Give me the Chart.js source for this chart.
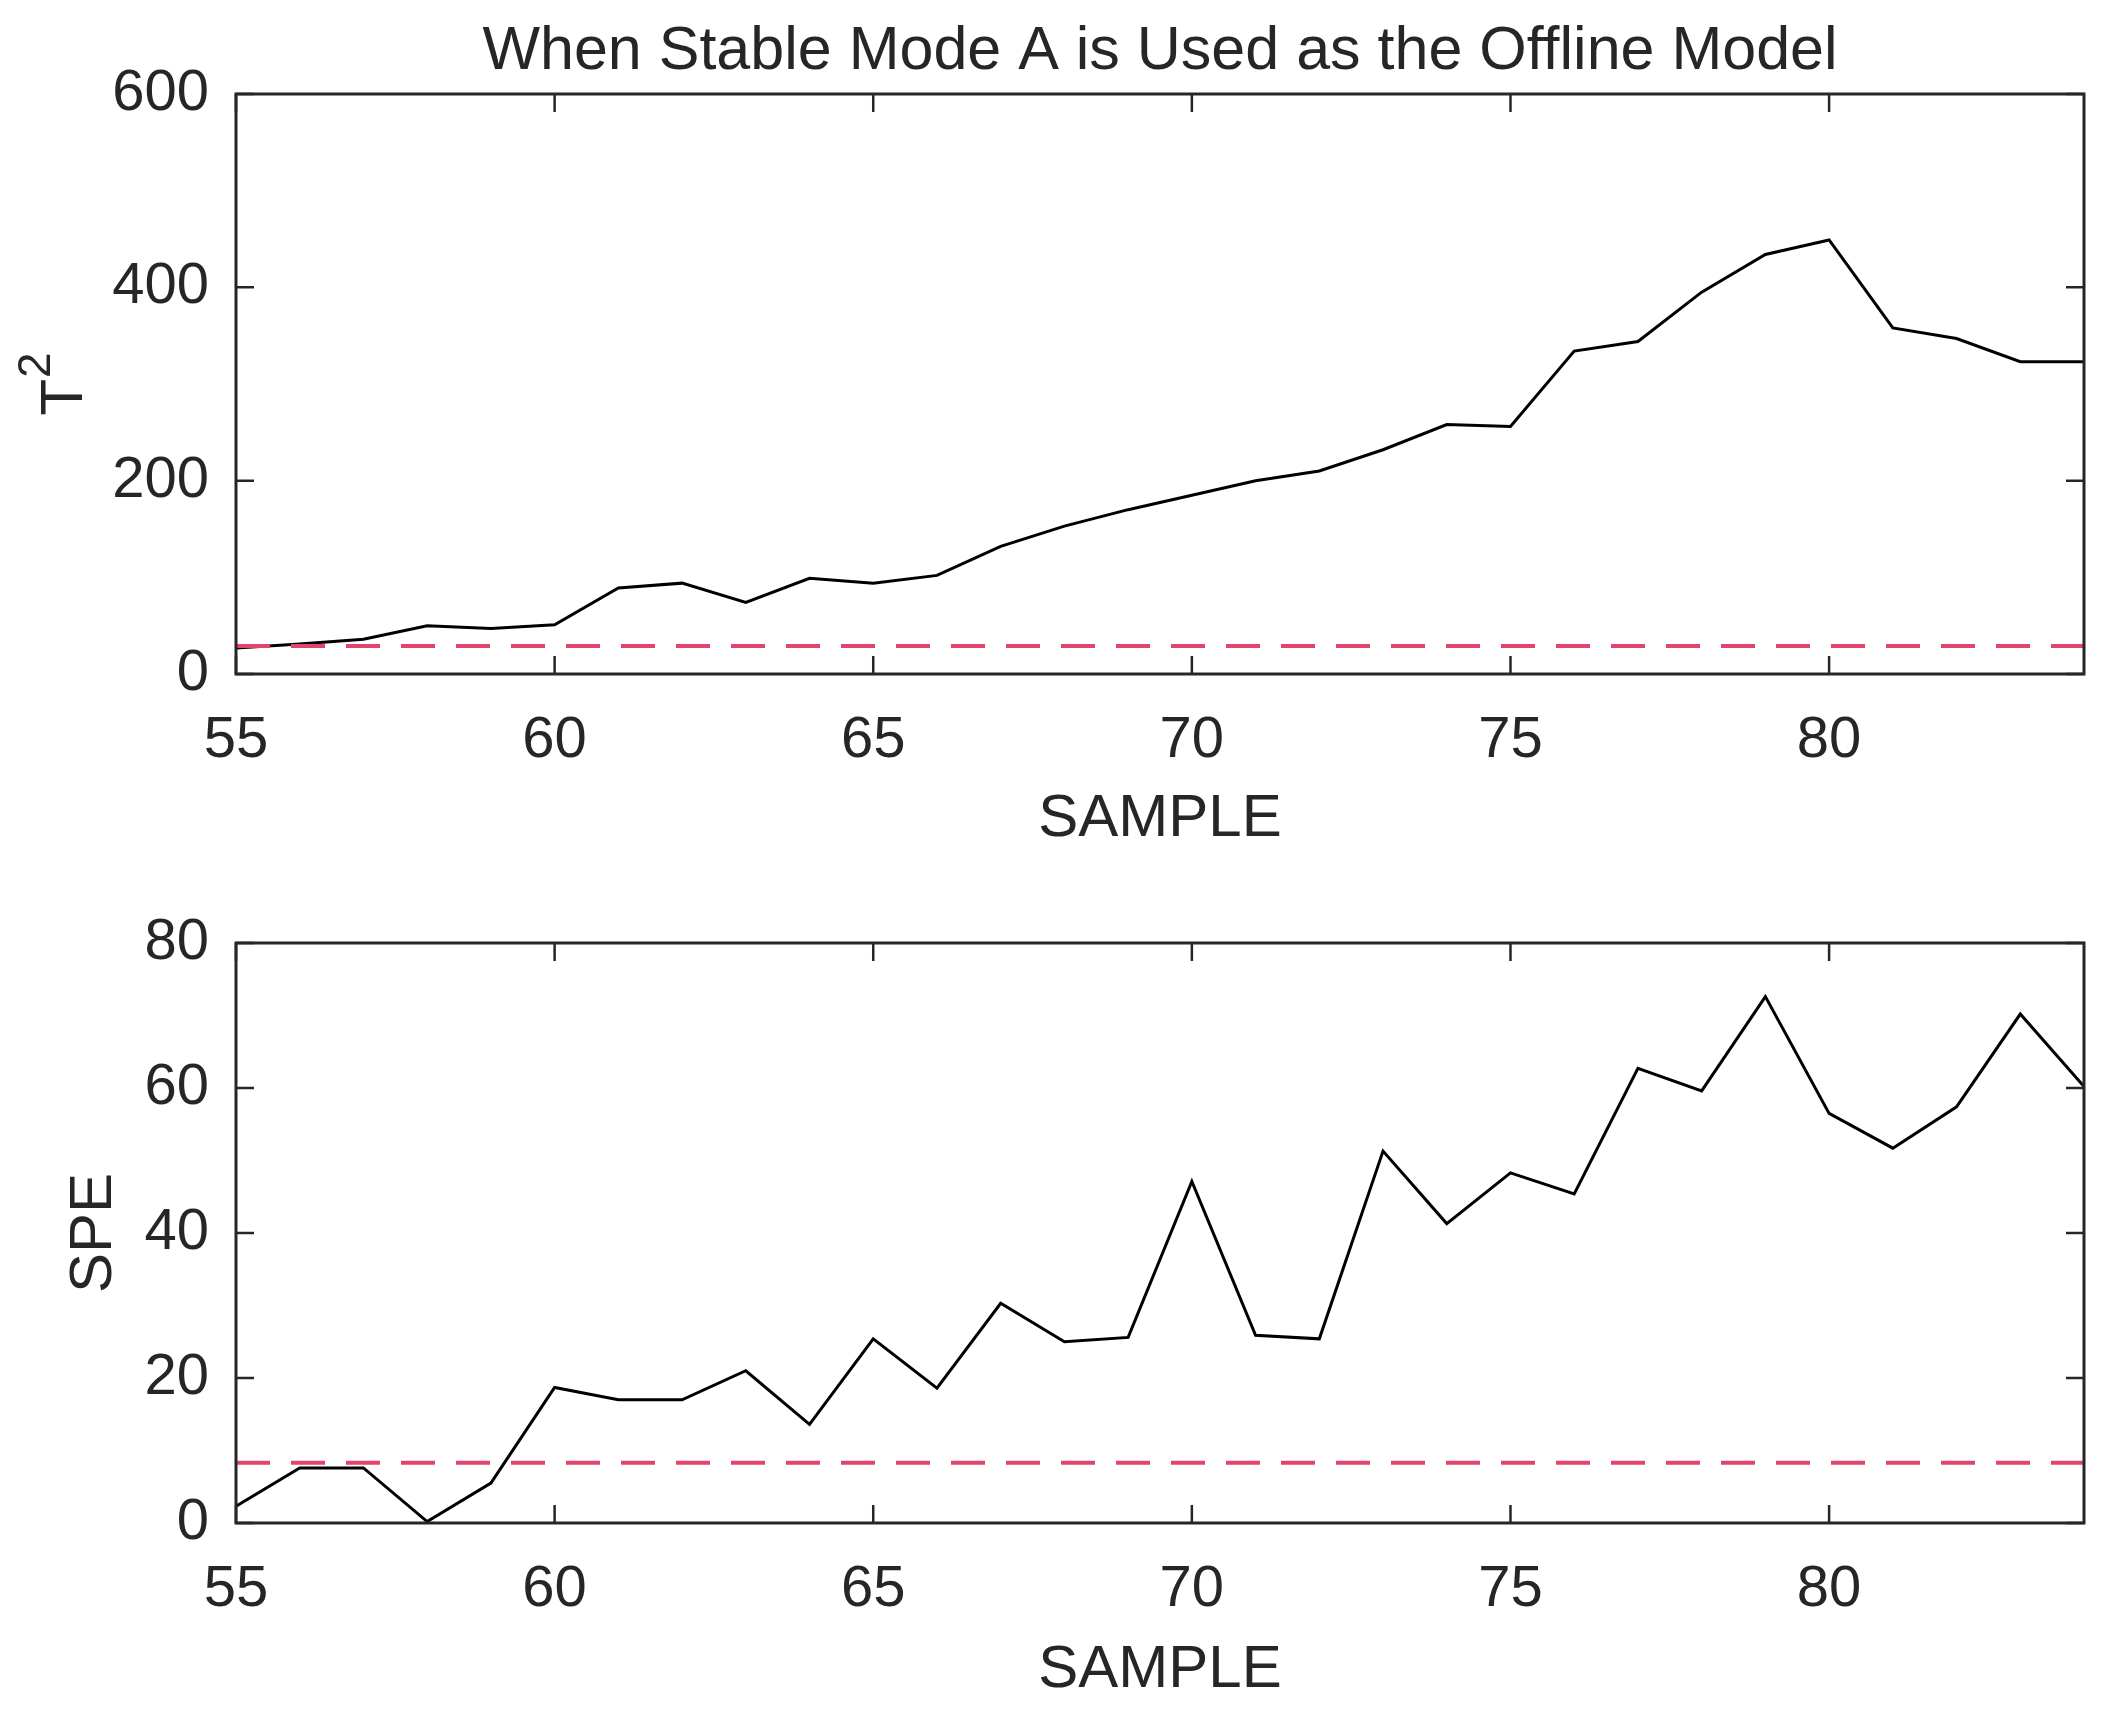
<!DOCTYPE html>
<html>
<head>
<meta charset="utf-8">
<script src="https://cdn.jsdelivr.net/npm/chart.js@4.4.0/dist/chart.umd.min.js"></script>
<style>
html,body{margin:0;padding:0;background:#fff;overflow:hidden;width:2108px;height:1715px;}
canvas{position:absolute;left:0;display:block;}
#c1{top:0;}
#c2{top:860px;}
</style>
</head>
<body>
<canvas id="c1" width="2108" height="860"></canvas>
<canvas id="c2" width="2108" height="855"></canvas>
<script>
// ---- data ----
const samples   = [55,56,57,58,59,60,61,62,63,64,65,66,67,68,69,70,71,72,73,74,75,76,77,78,79,80,81,82,83,84];
const t2Values  = [27,31,36,50,47,51,89,94,74,99,94,102,132,153,170,185,200,210,232,258,256,334,344,395,434,449,358,347,323,323];
const speValues = [2.3,7.6,7.6,0.2,5.5,18.7,17.0,17.0,21.0,13.6,25.4,18.6,30.3,25.0,25.6,47.1,25.9,25.4,51.3,41.3,48.3,45.4,62.7,59.6,72.6,56.5,51.7,57.4,70.2,60.2];
const t2Limit   = 29;
const speLimit  = 8.3;
const xTicks    = [55,60,65,70,75,80];
const t2Ticks   = [0,200,400,600];
const speTicks  = [0,20,40,60,80];
const chartTitle = 'When Stable Mode A is Used as the Offline Model';
const xTitle = 'SAMPLE';
const t2TitleBase = 'T';
const t2TitleSup = '2';
const speTitle = 'SPE';

const FONT = "'Liberation Sans', Arial, Helvetica, sans-serif";
const INK = '#262626';

const framePlugin = {
  id: 'frame',
  afterDatasetsDraw(chart) {
    const {ctx, chartArea: a, scales} = chart;
    const L = 18;
    ctx.save();
    ctx.strokeStyle = INK;
    ctx.lineWidth = 2.5;
    ctx.beginPath();
    scales.x.ticks.forEach(t => {
      const px = scales.x.getPixelForValue(t.value);
      ctx.moveTo(px, a.bottom); ctx.lineTo(px, a.bottom - L);
      ctx.moveTo(px, a.top); ctx.lineTo(px, a.top + L);
    });
    scales.y.ticks.forEach(t => {
      const py = scales.y.getPixelForValue(t.value);
      ctx.moveTo(a.left, py); ctx.lineTo(a.left + L, py);
      ctx.moveTo(a.right, py); ctx.lineTo(a.right - L, py);
    });
    ctx.stroke();
    ctx.lineWidth = 3;
    ctx.strokeRect(a.left, a.top, a.right - a.left, a.bottom - a.top);
    ctx.restore();
  }
};

// y-axis title with a real superscript (T with raised 2)
const supTitlePlugin = {
  id: 'supTitle',
  afterDraw(chart, args, opts) {
    if (!opts || !opts.base) return;
    const {ctx, chartArea: a} = chart;
    ctx.save();
    ctx.fillStyle = INK;
    ctx.textBaseline = 'alphabetic';
    ctx.textAlign = 'left';
    ctx.font = '60px ' + FONT;
    const wBase = ctx.measureText(opts.base).width;
    ctx.font = '46px ' + FONT;
    const wSup = ctx.measureText(opts.sup).width;
    const total = wBase + 1 + wSup;
    const cy = (a.top + a.bottom) / 2;
    ctx.translate(opts.baselineX, cy + total / 2);
    ctx.rotate(-Math.PI / 2);
    ctx.font = '60px ' + FONT;
    ctx.fillText(opts.base, 0, 0);
    ctx.font = '46px ' + FONT;
    ctx.fillText(opts.sup, wBase + 1, -32);
    ctx.restore();
  }
};

function makeChart(id, values, limit, yMax, yTicks, cfg) {
  const pts = samples.map((s, i) => ({x: s, y: values[i]}));
  const lim = [{x: samples[0], y: limit}, {x: samples[samples.length - 1], y: limit}];
  return new Chart(document.getElementById(id), {
    type: 'line',
    data: {
      datasets: [
        {data: lim, borderColor: '#e2446b', borderWidth: 4, borderDash: [34, 21], pointRadius: 0, fill: false},
        {data: pts, borderColor: '#000000', borderWidth: 3, pointRadius: 0, tension: 0, fill: false}
      ]
    },
    options: {
      responsive: false,
      animation: false,
      devicePixelRatio: 1,
      layout: {padding: {left: 0, right: 24, top: cfg.padTop, bottom: 0}},
      plugins: {
        legend: {display: false},
        tooltip: {enabled: false},
        title: cfg.title ? {
          display: true, text: cfg.title, fullSize: false, color: INK,
          font: {family: FONT, size: 61, weight: 'normal', lineHeight: 1},
          padding: {top: 22, bottom: 11}
        } : {display: false},
        supTitle: cfg.sup || {}
      },
      scales: {
        x: {
          type: 'linear', min: samples[0], max: samples[samples.length - 1],
          grid: {display: false, drawTicks: false},
          border: {display: false},
          afterBuildTicks: s => { s.ticks = xTicks.map(v => ({value: v})); },
          afterFit: s => { s.height = cfg.xHeight; },
          ticks: {color: INK, padding: 38, autoSkip: false, maxRotation: 0,
                  font: {family: FONT, size: 58, lineHeight: 1}},
          title: {display: true, text: xTitle, color: INK,
                  font: {family: FONT, size: 60, lineHeight: 1},
                  padding: {top: 0, bottom: cfg.xTitlePad}}
        },
        y: {
          type: 'linear', min: 0, max: yMax,
          grid: {display: false, drawTicks: false},
          border: {display: false},
          afterBuildTicks: s => { s.ticks = yTicks.map(v => ({value: v})); },
          afterFit: s => { s.width = 236; },
          ticks: {color: INK, padding: 27, font: {family: FONT, size: 58, lineHeight: 1}},
          title: {display: !!cfg.yTitle, text: cfg.yTitle || '', color: INK,
                  font: {family: FONT, size: 60, lineHeight: 1},
                  padding: {top: cfg.yTitlePad || 0, bottom: 0}}
        }
      }
    },
    plugins: [framePlugin, supTitlePlugin]
  });
}

makeChart('c1', t2Values, t2Limit, 600, t2Ticks,
  {title: chartTitle, padTop: 0, xHeight: 186, xTitlePad: 11,
   sup: {base: t2TitleBase, sup: t2TitleSup, baselineX: 82}});
makeChart('c2', speValues, speLimit, 80, speTicks,
  {title: null, padTop: 83, xHeight: 192, xTitlePad: 15, yTitle: speTitle, yTitlePad: 64});
</script>
</body>
</html>
